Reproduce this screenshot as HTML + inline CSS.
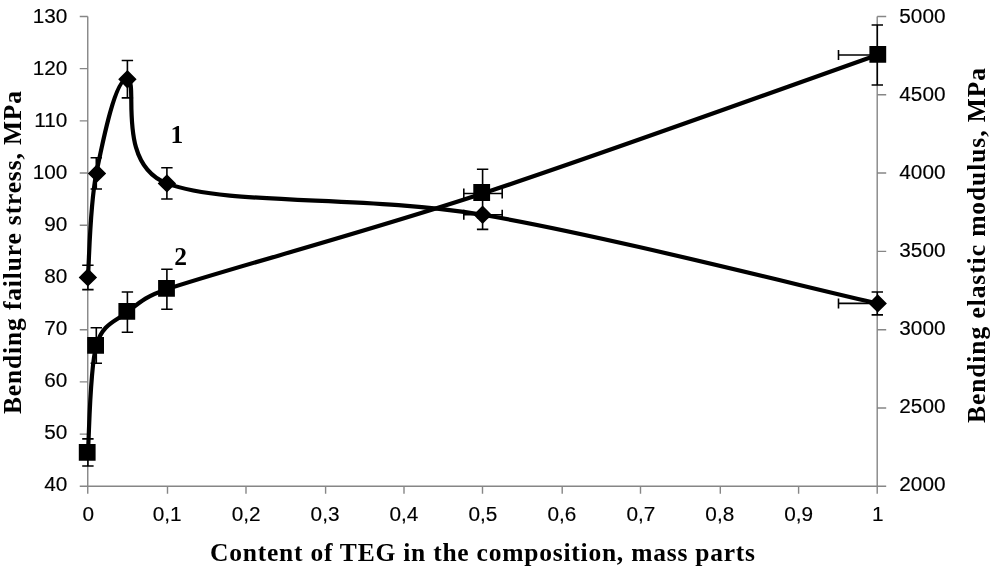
<!DOCTYPE html>
<html><head><meta charset="utf-8"><style>
html,body{margin:0;padding:0;background:#fff;}
body{width:993px;height:567px;overflow:hidden;font-family:"Liberation Sans",sans-serif;}
svg{display:block;will-change:transform;}
</style></head><body>
<svg width="993" height="567" viewBox="0 0 993 567">
<rect width="993" height="567" fill="#fff"/>
<path d="M87.75,16.45V486.30 M877.20,16.45V486.30 M79.75,486.30H886.20 M79.75,486.30H87.75 M79.75,434.09H87.75 M79.75,381.89H87.75 M79.75,329.68H87.75 M79.75,277.48H87.75 M79.75,225.27H87.75 M79.75,173.07H87.75 M79.75,120.86H87.75 M79.75,68.66H87.75 M79.75,16.45H87.75 M877.20,486.30H886.20 M877.20,407.99H886.20 M877.20,329.68H886.20 M877.20,251.37H886.20 M877.20,173.07H886.20 M877.20,94.76H886.20 M877.20,16.45H886.20 M87.75,486.30V493.80 M167.50,486.30V493.80 M246.00,486.30V493.80 M325.60,486.30V493.80 M404.00,486.30V493.80 M482.50,486.30V493.80 M562.20,486.30V493.80 M640.50,486.30V493.80 M720.30,486.30V493.80 M798.60,486.30V493.80 M877.20,486.30V493.80" stroke="#868686" stroke-width="1.4" fill="none"/>
<text transform="translate(67.3,491.46) scale(1.065,1)" text-anchor="end" font-family="Liberation Sans, sans-serif" font-size="19.5" fill="#000" stroke="#000" stroke-width="0.15">40</text>
<text transform="translate(67.3,439.42) scale(1.065,1)" text-anchor="end" font-family="Liberation Sans, sans-serif" font-size="19.5" fill="#000" stroke="#000" stroke-width="0.15">50</text>
<text transform="translate(67.3,387.38) scale(1.065,1)" text-anchor="end" font-family="Liberation Sans, sans-serif" font-size="19.5" fill="#000" stroke="#000" stroke-width="0.15">60</text>
<text transform="translate(67.3,335.34) scale(1.065,1)" text-anchor="end" font-family="Liberation Sans, sans-serif" font-size="19.5" fill="#000" stroke="#000" stroke-width="0.15">70</text>
<text transform="translate(67.3,283.30) scale(1.065,1)" text-anchor="end" font-family="Liberation Sans, sans-serif" font-size="19.5" fill="#000" stroke="#000" stroke-width="0.15">80</text>
<text transform="translate(67.3,231.26) scale(1.065,1)" text-anchor="end" font-family="Liberation Sans, sans-serif" font-size="19.5" fill="#000" stroke="#000" stroke-width="0.15">90</text>
<text transform="translate(67.3,179.22) scale(1.065,1)" text-anchor="end" font-family="Liberation Sans, sans-serif" font-size="19.5" fill="#000" stroke="#000" stroke-width="0.15">100</text>
<text transform="translate(67.3,127.18) scale(1.065,1)" text-anchor="end" font-family="Liberation Sans, sans-serif" font-size="19.5" fill="#000" stroke="#000" stroke-width="0.15">110</text>
<text transform="translate(67.3,75.14) scale(1.065,1)" text-anchor="end" font-family="Liberation Sans, sans-serif" font-size="19.5" fill="#000" stroke="#000" stroke-width="0.15">120</text>
<text transform="translate(67.3,23.10) scale(1.065,1)" text-anchor="end" font-family="Liberation Sans, sans-serif" font-size="19.5" fill="#000" stroke="#000" stroke-width="0.15">130</text>
<text transform="translate(899.3,490.72) scale(1.065,1)" font-family="Liberation Sans, sans-serif" font-size="19.5" fill="#000" stroke="#000" stroke-width="0.15">2000</text>
<text transform="translate(899.3,412.80) scale(1.065,1)" font-family="Liberation Sans, sans-serif" font-size="19.5" fill="#000" stroke="#000" stroke-width="0.15">2500</text>
<text transform="translate(899.3,334.88) scale(1.065,1)" font-family="Liberation Sans, sans-serif" font-size="19.5" fill="#000" stroke="#000" stroke-width="0.15">3000</text>
<text transform="translate(899.3,256.96) scale(1.065,1)" font-family="Liberation Sans, sans-serif" font-size="19.5" fill="#000" stroke="#000" stroke-width="0.15">3500</text>
<text transform="translate(899.3,179.04) scale(1.065,1)" font-family="Liberation Sans, sans-serif" font-size="19.5" fill="#000" stroke="#000" stroke-width="0.15">4000</text>
<text transform="translate(899.3,101.12) scale(1.065,1)" font-family="Liberation Sans, sans-serif" font-size="19.5" fill="#000" stroke="#000" stroke-width="0.15">4500</text>
<text transform="translate(899.3,23.20) scale(1.065,1)" font-family="Liberation Sans, sans-serif" font-size="19.5" fill="#000" stroke="#000" stroke-width="0.15">5000</text>
<text transform="translate(88.20,521.3) scale(1.065,1)" text-anchor="middle" font-family="Liberation Sans, sans-serif" font-size="19.5" fill="#000" stroke="#000" stroke-width="0.15">0</text>
<text transform="translate(167.14,521.3) scale(1.065,1)" text-anchor="middle" font-family="Liberation Sans, sans-serif" font-size="19.5" fill="#000" stroke="#000" stroke-width="0.15">0,1</text>
<text transform="translate(246.09,521.3) scale(1.065,1)" text-anchor="middle" font-family="Liberation Sans, sans-serif" font-size="19.5" fill="#000" stroke="#000" stroke-width="0.15">0,2</text>
<text transform="translate(325.04,521.3) scale(1.065,1)" text-anchor="middle" font-family="Liberation Sans, sans-serif" font-size="19.5" fill="#000" stroke="#000" stroke-width="0.15">0,3</text>
<text transform="translate(403.98,521.3) scale(1.065,1)" text-anchor="middle" font-family="Liberation Sans, sans-serif" font-size="19.5" fill="#000" stroke="#000" stroke-width="0.15">0,4</text>
<text transform="translate(482.93,521.3) scale(1.065,1)" text-anchor="middle" font-family="Liberation Sans, sans-serif" font-size="19.5" fill="#000" stroke="#000" stroke-width="0.15">0,5</text>
<text transform="translate(561.87,521.3) scale(1.065,1)" text-anchor="middle" font-family="Liberation Sans, sans-serif" font-size="19.5" fill="#000" stroke="#000" stroke-width="0.15">0,6</text>
<text transform="translate(640.82,521.3) scale(1.065,1)" text-anchor="middle" font-family="Liberation Sans, sans-serif" font-size="19.5" fill="#000" stroke="#000" stroke-width="0.15">0,7</text>
<text transform="translate(719.76,521.3) scale(1.065,1)" text-anchor="middle" font-family="Liberation Sans, sans-serif" font-size="19.5" fill="#000" stroke="#000" stroke-width="0.15">0,8</text>
<text transform="translate(798.71,521.3) scale(1.065,1)" text-anchor="middle" font-family="Liberation Sans, sans-serif" font-size="19.5" fill="#000" stroke="#000" stroke-width="0.15">0,9</text>
<text transform="translate(877.65,521.3) scale(1.065,1)" text-anchor="middle" font-family="Liberation Sans, sans-serif" font-size="19.5" fill="#000" stroke="#000" stroke-width="0.15">1</text>
<text x="210" y="561" textLength="545" lengthAdjust="spacing" font-family="Liberation Serif, serif" font-size="25.5" font-weight="bold" fill="#000">Content of TEG in the composition, mass parts</text>
<text transform="translate(20.5,414) rotate(-90)" textLength="323" lengthAdjust="spacing" font-family="Liberation Serif, serif" font-size="25.5" font-weight="bold" fill="#000">Bending failure stress, MPa</text>
<text transform="translate(984.5,423) rotate(-90)" textLength="355" lengthAdjust="spacing" font-family="Liberation Serif, serif" font-size="25.5" font-weight="bold" fill="#000">Bending elastic modulus, MPa</text>
<text x="170.5" y="142.8" font-family="Liberation Serif, serif" font-size="25.5" font-weight="bold" fill="#000">1</text>
<text x="174.2" y="265.4" font-family="Liberation Serif, serif" font-size="25.5" font-weight="bold" fill="#000">2</text>
<path d="M87.90,265.20V289.60 M82.20,265.20H93.60 M82.20,289.60H93.60 M96.30,157.75V189.05 M90.60,157.75H102.00 M90.60,189.05H102.00 M127.40,60.55V97.85 M121.70,60.55H133.10 M121.70,97.85H133.10 M166.90,167.75V199.05 M161.20,167.75H172.60 M161.20,199.05H172.60 M482.60,200.20V229.40 M476.90,200.20H488.30 M476.90,229.40H488.30 M463.80,214.80H482.60 M463.80,209.80V219.80 M482.60,214.80H502.20 M502.20,209.80V219.80 M877.30,291.95V314.85 M871.60,291.95H883.00 M871.60,314.85H883.00 M838.50,303.40H877.30 M838.50,298.40V308.40 M87.90,438.90V466.00 M82.20,438.90H93.60 M82.20,466.00H93.60 M96.30,327.70V363.30 M90.60,327.70H102.00 M90.60,363.30H102.00 M127.40,292.00V332.20 M121.70,292.00H133.10 M121.70,332.20H133.10 M166.90,269.20V309.20 M161.20,269.20H172.60 M161.20,309.20H172.60 M482.60,169.30V217.70 M476.90,169.30H488.30 M476.90,217.70H488.30 M463.80,193.50H482.60 M463.80,188.50V198.50 M482.60,193.50H502.20 M502.20,188.50V198.50 M877.30,25.00V85.00 M871.60,25.00H883.00 M871.60,85.00H883.00 M838.50,55.00H877.30 M838.50,50.00V60.00" stroke="#000" stroke-width="1.6" fill="none"/>
<path d="M87.90,277.40 C89.30,260.07 89.72,206.43 96.30,173.40 C102.88,140.37 115.63,77.53 127.40,79.20 C139.17,80.87 114.85,163.53 166.90,183.40 C226.10,206.00 364.20,194.80 482.60,214.80 C601.00,234.80 811.52,288.63 877.30,303.40" stroke="#000" stroke-width="4.2" fill="none" stroke-linejoin="round"/>
<path d="M87.90,452.45 C89.30,434.62 89.72,368.89 96.30,345.50 C102.48,323.53 115.63,321.48 127.40,312.10 C139.17,302.72 145.25,296.43 166.90,289.20 C226.10,269.43 364.20,232.53 482.60,193.50 C601.00,154.47 811.52,78.08 877.30,55.00" stroke="#000" stroke-width="4.2" fill="none" stroke-linejoin="round"/>
<path d="M87.90,268.20L97.10,277.40L87.90,286.60L78.70,277.40Z M97.00,164.20L106.20,173.40L97.00,182.60L87.80,173.40Z M127.40,70.00L136.60,79.20L127.40,88.40L118.20,79.20Z M166.90,174.20L176.10,183.40L166.90,192.60L157.70,183.40Z M482.60,205.60L491.80,214.80L482.60,224.00L473.40,214.80Z M877.70,294.20L886.90,303.40L877.70,312.60L868.50,303.40Z" fill="#000"/>
<path d="M78.80,443.95h16.80v16.80h-16.80Z M87.20,337.00h16.80v16.80h-16.80Z M118.40,302.90h16.80v16.80h-16.80Z M158.10,280.00h16.80v16.80h-16.80Z M473.30,184.10h16.80v16.80h-16.80Z M869.40,45.90h16.80v16.80h-16.80Z" fill="#000"/>
</svg>
</body></html>
